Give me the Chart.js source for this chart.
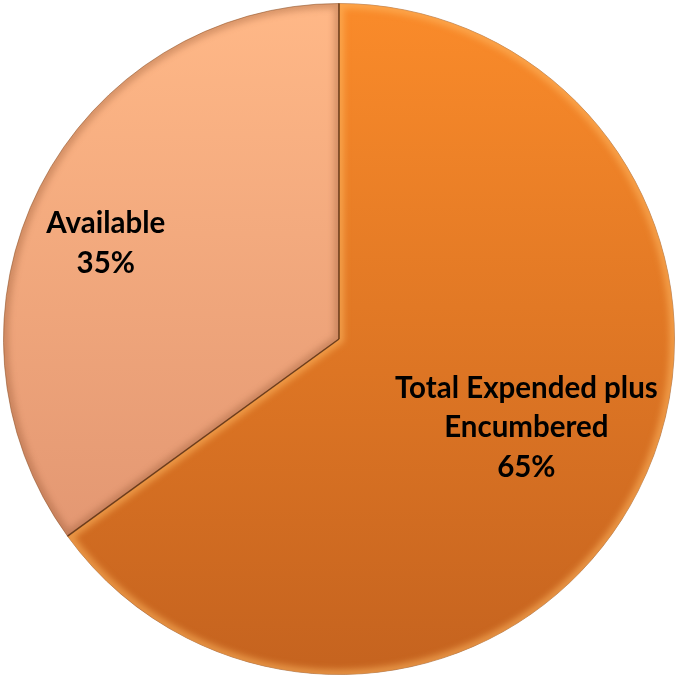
<!DOCTYPE html>
<html>
<head>
<meta charset="utf-8">
<script src="https://cdn.jsdelivr.net/npm/chart.js@4.4.1/dist/chart.umd.min.js"></script>
<style>
  html, body { margin: 0; padding: 0; background: #ffffff; }
  #wrap { width: 678px; height: 678px; }
</style>
</head>
<body>
<div id="wrap"><canvas id="budgetPie" width="678" height="678"></canvas></div>
<script>
// Budget status split
const categories = ['Total Expended plus Encumbered', 'Available'];
const labelLines = [['Total Expended plus', 'Encumbered'], ['Available']];
const shares = [65, 35];

// top / bottom shades for each slice's vertical gradient
const topShades = ['#fa8b2a', '#ffb887'];
const bottomShades = ['#c5631f', '#dc8f6d'];
// soft inner edge tint per slice (gives the bevelled look)
const edgeTints = ['rgba(255,185,100,0.55)', 'rgba(120,60,30,0.28)'];

function sliceFill(ctx) {
    const chart = ctx.chart;
    const area = chart.chartArea;
    if (!area) return topShades[ctx.dataIndex];
    const g = chart.ctx.createLinearGradient(0, area.top, 0, area.bottom);
    g.addColorStop(0, topShades[ctx.dataIndex]);
    g.addColorStop(1, bottomShades[ctx.dataIndex]);
    return g;
}

function slicePath(c, p) {
    c.beginPath();
    c.moveTo(p.x, p.y);
    c.arc(p.x, p.y, p.outerRadius, p.startAngle, p.endAngle);
    c.closePath();
}

// bevel tint inside each slice, then the dark seam on top
const sliceBevel = {
    id: 'sliceBevel',
    afterDatasetsDraw(chart) {
        const c = chart.ctx;
        chart.getDatasetMeta(0).data.forEach((arc, i) => {
            const p = arc.getProps(['x', 'y', 'startAngle', 'endAngle', 'outerRadius'], true);
            c.save();
            slicePath(c, p);
            c.clip();
            c.filter = 'blur(3px)';
            c.lineWidth = 10;
            c.strokeStyle = edgeTints[i];
            slicePath(c, p);
            c.stroke();
            c.restore();
        });
        const p0 = chart.getDatasetMeta(0).data[0].getProps(['x', 'y', 'startAngle', 'endAngle', 'outerRadius'], true);
        c.save();
        c.strokeStyle = 'rgba(95,50,20,0.85)';
        c.lineWidth = 1.5;
        [p0.startAngle, p0.endAngle].forEach(a => {
            c.beginPath();
            c.moveTo(p0.x, p0.y);
            c.lineTo(p0.x + Math.cos(a) * p0.outerRadius, p0.y + Math.sin(a) * p0.outerRadius);
            c.stroke();
        });
        c.restore();
    }
};

// writes the category name and percent inside each slice
const sliceLabels = {
    id: 'sliceLabels',
    afterDatasetsDraw(chart) {
        const meta = chart.getDatasetMeta(0);
        const c = chart.ctx;
        const radial = [0.61, 0.76];
        const nudge = [[5, -4], [-6, 20]];
        const lineH = 39.5;
        c.save();
        c.fillStyle = '#000000';
        c.font = 'bold 29.5px Lato, "Open Sans", sans-serif';
        c.textAlign = 'center';
        c.textBaseline = 'middle';
        meta.data.forEach((arc, i) => {
            const p = arc.getProps(['x', 'y', 'startAngle', 'endAngle', 'outerRadius'], true);
            const mid = (p.startAngle + p.endAngle) / 2;
            const r = p.outerRadius * radial[i];
            const cx = p.x + Math.cos(mid) * r + nudge[i][0];
            const cy = p.y + Math.sin(mid) * r + nudge[i][1];
            const lines = labelLines[i].concat([shares[i] + '%']);
            const y0 = cy - (lines.length - 1) * lineH / 2;
            lines.forEach((t, k) => c.fillText(t, cx, y0 + k * lineH));
        });
        c.restore();
    }
};

new Chart(document.getElementById('budgetPie'), {
    type: 'pie',
    data: {
        labels: categories,
        datasets: [{
            data: shares,
            backgroundColor: sliceFill,
            borderColor: 'rgba(150,85,40,0.55)',
            borderWidth: 1
        }]
    },
    options: {
        responsive: false,
        animation: false,
        layout: { padding: 3 },
        plugins: {
            legend: { display: false },
            tooltip: { enabled: false }
        }
    },
    plugins: [sliceBevel, sliceLabels]
});
</script>
</body>
</html>
